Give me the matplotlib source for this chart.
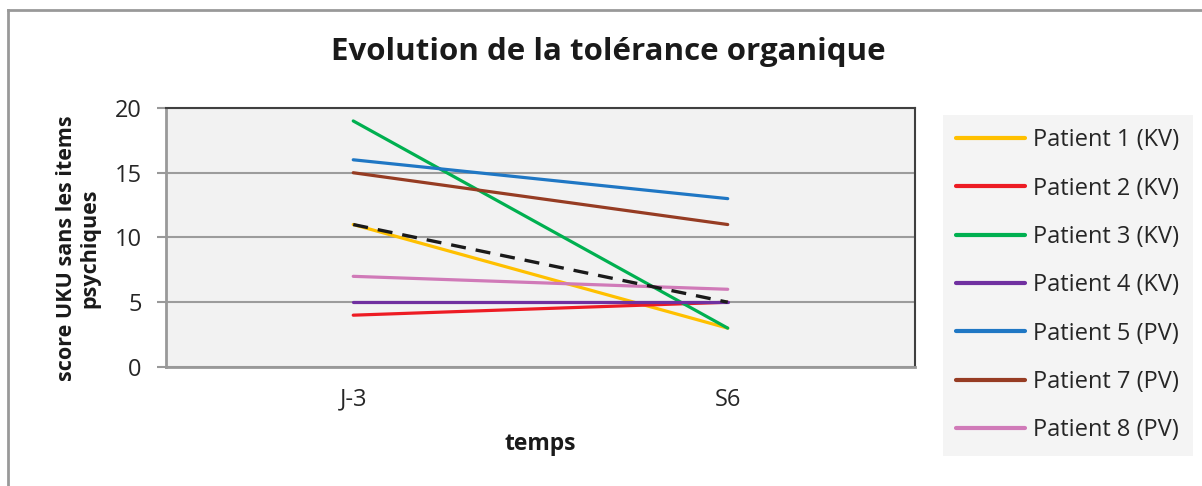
import matplotlib.pyplot as plt
from matplotlib.lines import Line2D

plt.rcParams['font.family'] = ['Open Sans', 'DejaVu Sans']

temps = ['J-3', 'S6']
patients = ['Patient 1 (KV)', 'Patient 2 (KV)', 'Patient 3 (KV)', 'Patient 4 (KV)',
            'Patient 5 (PV)', 'Patient 7 (PV)', 'Patient 8 (PV)']
scores = [[11, 3], [4, 5], [19, 3], [5, 5], [16, 13], [15, 11], [7, 6]]
couleurs = ['#ffc000', '#ed1c24', '#00b050', '#7030a0', '#1f77c4', '#963c23', '#d07ab8']
moyenne = [11, 5]

fig = plt.figure(figsize=(12.02, 4.86), dpi=100)
ax = fig.add_axes([0.1381, 0.2449, 0.6231, 0.5329])
ax.set_facecolor('#f2f2f2')

x = range(len(temps))
for nom, val, c in zip(patients, scores, couleurs):
    ax.plot(x, val, color=c, lw=2.3, label=nom, solid_capstyle='round', zorder=3)
ax.plot(x, moyenne, color='#1a1a1a', lw=2.4, ls=(0, (4.5, 3)), zorder=4)

ax.set_xlim(-0.5, 1.5)
ax.set_ylim(0, 20)
ax.set_yticks([0, 5, 10, 15, 20])
ax.set_xticks(list(x))
ax.set_xticklabels(temps)
ax.tick_params(axis='y', labelsize=17, length=6.5, width=1.5, color='#999999', pad=11,
               labelcolor='#262626')
ax.tick_params(axis='x', labelsize=17, length=0, pad=15, labelcolor='#262626')
ax.yaxis.grid(True, color='#9c9c9c', lw=1.5)
ax.set_axisbelow(True)
for s in ['left', 'bottom']:
    ax.spines[s].set_color('#999999')
    ax.spines[s].set_linewidth(2)
for s in ['top', 'right']:
    ax.spines[s].set_color('#404040')
    ax.spines[s].set_linewidth(1.5)

ax.set_xlabel('temps', fontsize=16.5, fontweight='bold', color='#1a1a1a')
ax.xaxis.set_label_coords(0.5, -0.25)
ax.set_ylabel('score UKU sans les items\npsychiques', fontsize=15.5, fontweight='bold',
              linespacing=1.15, color='#1a1a1a')
ax.yaxis.set_label_coords(-0.087, 0.46)
fig.text(0.506, 0.893, 'Evolution de la tolérance organique', ha='center', va='center',
         fontsize=22.5, fontweight='bold', color='#1a1a1a')

leg = ax.legend(loc='upper left', bbox_to_anchor=(1.0374, 0.973), borderaxespad=0,
                frameon=True, fontsize=17, handlelength=2.9, labelspacing=1.03,
                borderpad=0.57, handletextpad=0.35, fancybox=False)
leg.get_frame().set_facecolor('#f2f2f2')
leg.get_frame().set_edgecolor('none')
for t in leg.get_texts():
    t.set_color('#262626')
for h in leg.get_lines():
    h.set_linewidth(3)

fig.add_artist(Line2D([8 / 1202, 8 / 1202], [0, 1 - 10 / 486], transform=fig.transFigure,
                      color='#999999', lw=2))
fig.add_artist(Line2D([8 / 1202, 1], [1 - 10 / 486, 1 - 10 / 486], transform=fig.transFigure,
                      color='#999999', lw=2))

fig.savefig('out.png', dpi=100)
